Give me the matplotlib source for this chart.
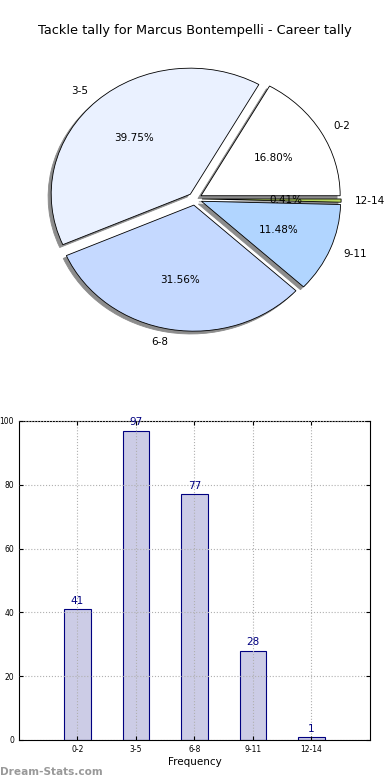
import matplotlib
matplotlib.use("Agg")
import matplotlib.pyplot as plt

player = "Marcus Bontempelli"
categories = ["0-2", "3-5", "6-8", "9-11", "12-14"]
counts = [41, 97, 77, 28, 1]
slice_colors = ["#ffffff", "#eaf1ff", "#c5d9ff", "#b1d5ff", "#b8d85e"]
y_ticks = [0, 20, 40, 60, 80, 100]

fig = plt.figure(figsize=(3.9, 7.8), dpi=100)

# pie (top), stretched like the old non-equal-aspect pies
ax_pie = fig.add_axes([0.054, 0.543, 0.892, 0.404])
wedges, texts, autotexts = ax_pie.pie(
    counts,
    labels=categories,
    colors=slice_colors,
    explode=[0.05] * len(counts),
    autopct="%1.2f%%",
    shadow={"ox": -0.016, "oy": -0.016, "facecolor": "#8c8c8c",
            "edgecolor": "#8c8c8c", "alpha": 1.0},
    startangle=0,
    wedgeprops={"edgecolor": "black", "linewidth": 0.6},
    textprops={"fontsize": 7.5},
)
ax_pie.set_aspect("auto")
ax_pie.set_xlim(-1.25, 1.25)
ax_pie.set_ylim(-1.25, 1.25)
fig.text(0.5, 0.961, f"Tackle tally for {player} - Career tally",
         ha="center", va="center", fontsize=9.3)

# bar chart (bottom)
ax_bar = fig.add_axes([0.0487, 0.0513, 0.9, 0.409])
xpos = list(range(1, len(categories) + 1))
ax_bar.bar(xpos, counts, width=0.45, color="#cccce6", edgecolor="#000080", linewidth=0.8)
for x, c in zip(xpos, counts):
    ax_bar.text(x, c + 1, str(c), ha="center", va="bottom", color="#000080", fontsize=7.5)
ax_bar.set_xlim(0, 6)
ax_bar.set_ylim(0, 100)
ax_bar.set_xticks(xpos)
ax_bar.set_xticklabels(categories)
ax_bar.set_yticks(y_ticks)
ax_bar.tick_params(labelsize=5.5, direction="in", right=True, top=True, length=3)
ax_bar.set_axisbelow(False)
ax_bar.grid(True, linestyle=":", color="#b0b0b0", linewidth=0.8)
ax_bar.set_xlabel("Frequency", fontsize=7.5, labelpad=2)

fig.text(0.0, 0.004, "Dream-Stats.com", color="#999999", fontsize=7.6,
         fontweight="bold", ha="left", va="bottom")

fig.savefig("out.png", dpi=100)
